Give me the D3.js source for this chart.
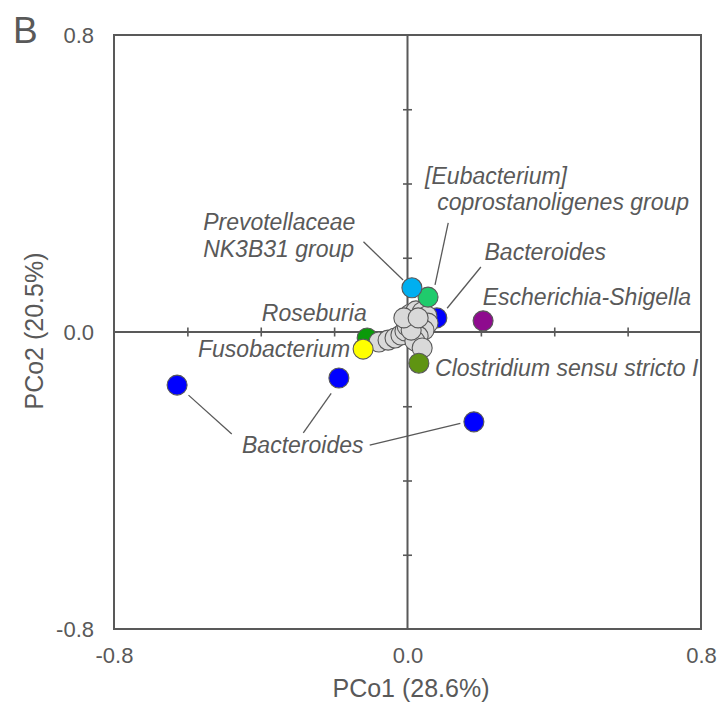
<!DOCTYPE html>
<html>
<head>
<meta charset="utf-8">
<script src="https://cdn.jsdelivr.net/npm/d3@7"></script>
<style>
  html, body { margin: 0; padding: 0; background: #fff; }
  svg { display: block; font-family: "Liberation Sans", Arial, sans-serif; }
</style>
</head>
<body>
<svg id="chart" width="720" height="722"></svg>
<script>
// ---- data ----
const xTickLabels = ["-0.8", "0.0", "0.8"];
const yTickLabels = ["0.8", "0.0", "-0.8"];
const axisTickValues = [-0.6, -0.4, -0.2, 0.2, 0.4, 0.6];

// grey (unlabelled) genera: PCo1, PCo2
const greyPC1 = [-0.078,-0.053,-0.034,-0.018,-0.007,-0.001,0.001,0.007,0.023,0.040,0.053,0.056,0.045,0.029,0.020,0.040,0.015,0.010,-0.010,0.029];
const greyPC2 = [-0.027,-0.022,-0.016,-0.008,0.003,0.016,0.032,0.048,0.057,0.054,0.043,0.024,0.005,-0.011,-0.024,-0.043,0.027,0.005,0.038,0.038];

// coloured (labelled) genera
const colGenus = ["Bacteroides","Bacteroides","Bacteroides","Bacteroides","Roseburia","Escherichia-Shigella","[Eubacterium] coprostanoligenes group","Prevotellaceae NK3B31 group","Clostridium sensu stricto I","Fusobacterium"];
const colPC1   = [-0.628,-0.187,0.181,0.080,-0.110,0.206,0.056,0.012,0.031,-0.121];
const colPC2   = [-0.143,-0.124,-0.242,0.038,-0.016,0.030,0.094,0.119,-0.084,-0.046];
const colFill  = ["#0000ff","#0000ff","#0000ff","#0000ff","#0a9a0a","#8e0b8e","#1fcb6c","#00aff0","#5f9412","#ffff00"];

// ---- layout ----
const svg = d3.select("#chart");
const L = 114, R = 701, T = 35, B = 629;
const x = d3.scaleLinear().domain([-0.8, 0.8]).range([L, R]);
const y = d3.scaleLinear().domain([-0.8, 0.8]).range([B, T]);
const ink = "#595959";

// frame
svg.append("rect").attr("x", L).attr("y", T).attr("width", R - L).attr("height", B - T)
  .attr("fill", "none").attr("stroke", ink).attr("stroke-width", 2);

// zero axes
svg.append("line").attr("x1", x(0)).attr("x2", x(0)).attr("y1", T).attr("y2", B)
  .attr("stroke", ink).attr("stroke-width", 2);
svg.append("line").attr("x1", L).attr("x2", R).attr("y1", y(0)).attr("y2", y(0))
  .attr("stroke", ink).attr("stroke-width", 2);

// crossing ticks on zero axes
const xAx = svg.append("g").attr("transform", `translate(0,${y(0) + 4.5})`)
  .call(d3.axisBottom(x).tickValues(axisTickValues).tickSize(9).tickFormat(""));
xAx.select(".domain").remove();
xAx.selectAll(".tick line").attr("stroke", ink).attr("stroke-width", 1.6).attr("transform", "translate(0,-9)");
const yAx = svg.append("g").attr("transform", `translate(${x(0) - 4.5},0)`)
  .call(d3.axisRight(y).tickValues(axisTickValues).tickSize(9).tickFormat(""));
yAx.select(".domain").remove();
yAx.selectAll(".tick line").attr("stroke", ink).attr("stroke-width", 1.6);

// tick labels
const xLabAx = svg.append("g").attr("transform", `translate(0,${B})`)
  .call(d3.axisBottom(x).tickValues([-0.8, 0, 0.8]).tickSize(0).tickPadding(18)
    .tickFormat((d, i) => xTickLabels[i]));
xLabAx.select(".domain").remove();
xLabAx.selectAll("text").attr("font-size", 22).attr("fill", ink).attr("font-family", "Liberation Sans, Arial, sans-serif");

const yLabAx = svg.append("g").attr("transform", `translate(${L},0)`)
  .call(d3.axisLeft(y).tickValues([0.8, 0, -0.8]).tickSize(0).tickPadding(20)
    .tickFormat((d, i) => yTickLabels[i]));
yLabAx.select(".domain").remove();
yLabAx.selectAll("text").attr("font-size", 22).attr("fill", ink).attr("font-family", "Liberation Sans, Arial, sans-serif");

// axis titles
svg.append("text").attr("x", 411).attr("y", 697).attr("text-anchor", "middle")
  .attr("font-size", 25).attr("fill", ink).text("PCo1 (28.6%)");
svg.append("text").attr("transform", "translate(43,331) rotate(-90)").attr("text-anchor", "middle")
  .attr("font-size", 25).attr("fill", ink).text("PCo2 (20.5%)");

// panel letter
svg.append("text").attr("x", 13).attr("y", 43).attr("font-size", 37).attr("fill", ink).text("B");

// ---- leader lines (from label end to point, in data units) ----
const leaders = [
  [[-0.120, 0.243], [-0.012, 0.140]], // Prevotellaceae
  [[0.111, 0.294], [0.075, 0.127]],   // Eubacterium
  [[0.200, 0.175], [0.108, 0.064]],   // Bacteroides upper
  [[-0.597, -0.170], [-0.479, -0.275]], // Bacteroides lower left
  [[-0.208, -0.165], [-0.284, -0.272]], // Bacteroides lower mid
  [[-0.103, -0.305], [0.144, -0.246]]   // Bacteroides lower right
];
svg.append("g").selectAll("line").data(leaders).join("line")
  .attr("x1", d => x(d[0][0])).attr("y1", d => y(d[0][1]))
  .attr("x2", d => x(d[1][0])).attr("y2", d => y(d[1][1]))
  .attr("stroke", ink).attr("stroke-width", 1.3);

// ---- points ----
const r = 10;
const order = [0,1,2,3,4]; // drawn below grey
const above = [5,6,7,8,9];
const g = svg.append("g");
g.selectAll("circle.c1").data(order).join("circle").attr("class", "c1")
  .attr("cx", i => x(colPC1[i])).attr("cy", i => y(colPC2[i])).attr("r", r)
  .attr("fill", i => colFill[i]).attr("stroke", ink).attr("stroke-width", 1.1);
g.selectAll("circle.g").data(greyPC1.map((v, i) => i)).join("circle").attr("class", "g")
  .attr("cx", i => x(greyPC1[i])).attr("cy", i => y(greyPC2[i])).attr("r", r)
  .attr("fill", "#d9d9d9").attr("stroke", ink).attr("stroke-width", 1.1);
g.selectAll("circle.c2").data(above).join("circle").attr("class", "c2")
  .attr("cx", i => x(colPC1[i])).attr("cy", i => y(colPC2[i])).attr("r", r)
  .attr("fill", i => colFill[i]).attr("stroke", ink).attr("stroke-width", 1.1);

// ---- labels (data-unit anchor of text start / baseline) ----
const labels = [
  ["[Eubacterium]", 0.048, 0.398],
  ["coprostanoligenes group", 0.081, 0.329],
  ["Prevotellaceae", -0.557, 0.275],
  ["NK3B31 group", -0.557, 0.202],
  ["Bacteroides", 0.210, 0.194],
  ["Escherichia-Shigella", 0.205, 0.073],
  ["Roseburia", -0.397, 0.030],
  ["Fusobacterium", -0.571, -0.067],
  ["Clostridium sensu stricto I", 0.075, -0.118],
  ["Bacteroides", -0.451, -0.326]
];
svg.append("g").selectAll("text").data(labels).join("text")
  .attr("x", d => x(d[1])).attr("y", d => y(d[2]))
  .attr("font-size", 23).attr("font-style", "italic").attr("fill", ink)
  .text(d => d[0]);
</script>
</body>
</html>
